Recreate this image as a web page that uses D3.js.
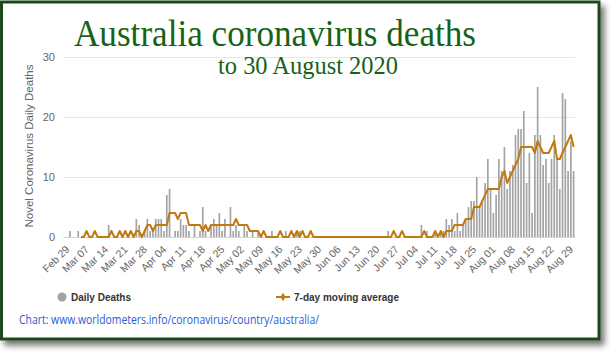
<!DOCTYPE html>
<html><head><meta charset="utf-8">
<script src="https://cdn.jsdelivr.net/npm/d3@7"></script>
<style>html,body{margin:0;padding:0;background:#fff;overflow:hidden}</style>
</head><body>
<svg id="c" width="615" height="356"></svg>
<script>
// ---------- DATA ----------
const startDate = "2020-02-28";   // first category (index 0), last = 2020-08-30
const dailyDeaths = [
0,0,1,0,0,1,0,0,0,0, 0,0,0,0,0,0,2,0,0,0,
0,0,0,0,0,0,3,2,0,1, 3,1,1,3,3,3,1,7,8,0,
1,1,3,2,2,1,0,2,0,1, 5,1,0,2,3,2,4,1,3,0,
5,1,2,1,0,2,1,0,1,0, 1,0,0,0,0,1,0,0,0,0,
1,0,0,0,1,1,0,0,0,0, 0,0,0,0,0,0,0,0,0,0,
0,0,0,0,0,0,0,0,0,0, 0,0,0,0,0,0,0,1,0,0,
0,0,0,0,0,0,0,0,0,2, 0,1,0,0,1,0,1,1,3,2,
3,1,4,1,2,3,5,6,6,10, 5,6,9,13,8,4,7,13,11,15,
8,11,12,17,18,18,21,9,14,4, 17,25,17,12,13,9,13,17,13,8,
24,23,11,16,11
];
const movingAverage = [
null,null,null,null,null,null,0,0,1,0, 0,1,0,0,0,0,0,1,0,0,
1,0,1,0,1,0,1,1,0,1, 2,2,1,2,2,2,2,2,4,4,
4,3,4,4,4,2,2,2,2,2, 1,2,1,2,2,2,2,2,2,2,
2,2,3,2,2,2,2,1,1,1, 1,0,1,0,0,0,0,0,1,0,
0,0,1,0,1,0,1,0,0,1, 0,0,0,0,0,0,0,0,0,0,
0,0,0,0,0,0,0,0,0,0, 0,0,0,0,0,0,0,0,0,1,
0,0,1,0,0,0,0,0,0,0, 1,0,0,0,1,0,1,0,1,1,
1,2,2,2,2,3,3,3,5,5, 5,6,7,8,8,8,8,8,10,11,
9,10,11,12,13,15,15,15,15,15, 14,16,15,14,14,14,15,16,13,13,
14,15,16,17,15
];
const tickLabels = ["Feb 29","Mar 07","Mar 14","Mar 21","Mar 28","Apr 04","Apr 11","Apr 18","Apr 25",
  "May 02","May 09","May 16","May 23","May 30","Jun 06","Jun 13","Jun 20","Jun 27","Jul 04",
  "Jul 11","Jul 18","Jul 25","Aug 01","Aug 08","Aug 15","Aug 22","Aug 29"];
const yTicks = [0, 10, 20, 30];
const titleText = "Australia coronavirus deaths";
const subtitleText = "to 30 August 2020";
const yAxisTitle = "Novel Coronavirus Daily Deaths";
const legendBars = "Daily Deaths";
const legendLine = "7-day moving average";
const sourceText = "Chart: www.worldometers.info/coronavirus/country/australia/";

// ---------- CHART ----------
const fmt = d3.timeFormat("%b %d");
const parse = d3.timeParse("%Y-%m-%d");
const d0 = parse(startDate);
const dates = dailyDeaths.map((_, i) => d3.timeDay.offset(d0, i));
const cats = dates.map(fmt);

const svg = d3.select("#c");
const defs = svg.append("defs");
const f = defs.append("filter").attr("id","sh").attr("x","-5%").attr("y","-5%").attr("width","115%").attr("height","120%");
f.append("feDropShadow").attr("dx",4).attr("dy",5).attr("stdDeviation",3).attr("flood-color","#000").attr("flood-opacity",0.55);

svg.append("rect").attr("x",1.5).attr("y",2).attr("width",597.5).attr("height",337)
  .attr("fill","#fff").attr("stroke","#1f4a1f").attr("stroke-width",3).attr("filter","url(#sh)");

const m = {left:63, right:575, top:57, bottom:237};
const x = d3.scaleBand().domain(cats).range([m.left, m.right]).paddingInner(0.4).paddingOuter(0.2);
const xc = d3.scaleBand().domain(cats).range([m.left, m.right]);
const y = d3.scaleLinear().domain([0, 30]).range([m.bottom, m.top]);

// gridlines + y labels
const yAxis = d3.axisLeft(y).tickValues(yTicks).tickSize(-(m.right - m.left)).tickPadding(8);
const gy = svg.append("g").attr("transform", `translate(${m.left},0)`).call(yAxis);
gy.select(".domain").remove();
gy.selectAll(".tick line").attr("stroke", "#e6e6e6").attr("stroke-width", 1);
gy.selectAll(".tick text").attr("fill", "#666").attr("font-family", "Liberation Sans, Arial, sans-serif")
  .attr("font-size", 11).attr("x", -8);

// bars
svg.append("g").selectAll("rect").data(dailyDeaths).join("rect")
  .attr("x", (d, i) => x(cats[i]))
  .attr("width", x.bandwidth())
  .attr("y", d => y(d))
  .attr("height", d => y(0) - y(d))
  .attr("fill", "#a3a3a3");

// x axis
const xAxis = d3.axisBottom(xc).tickValues(cats.filter(c => tickLabels.includes(c))).tickSize(0).tickPadding(0);
const gx = svg.append("g").attr("transform", `translate(0,${m.bottom})`).call(xAxis);
gx.select(".domain").attr("stroke", "#ccd6eb").attr("stroke-width", 1);
gx.selectAll(".tick text")
  .attr("fill", "#666").attr("font-family", "Liberation Sans, Arial, sans-serif").attr("font-size", 10.5)
  .attr("text-anchor", "end").attr("dy", 0).attr("y", 0)
  .attr("transform", "translate(3,13) rotate(-45)");

// moving average line
const line = d3.line()
  .defined(d => d != null)
  .x((d, i) => xc(cats[i]) + xc.bandwidth() / 2)
  .y(d => y(d));
svg.append("path").datum(movingAverage).attr("d", line)
  .attr("fill", "none").attr("stroke", "#c17a10").attr("stroke-width", 2).attr("stroke-linejoin", "round");

// y axis title
svg.append("text").attr("transform", "translate(33,146) rotate(-90)")
  .attr("text-anchor", "middle").attr("fill", "#666")
  .attr("font-family", "Liberation Sans, Arial, sans-serif").attr("font-size", 11.5).text(yAxisTitle);

// titles
svg.append("text").attr("x", 74).attr("y", 46).attr("fill", "#166316")
  .attr("font-family", "Liberation Serif, Times New Roman, serif").attr("font-size", 38)
  .attr("textLength", 402).attr("lengthAdjust", "spacingAndGlyphs").text(titleText);
svg.append("text").attr("x", 218).attr("y", 74).attr("fill", "#166316")
  .attr("font-family", "Liberation Serif, Times New Roman, serif").attr("font-size", 25)
  .attr("textLength", 180).attr("lengthAdjust", "spacingAndGlyphs").text(subtitleText);

// legend
const lg = svg.append("g");
lg.append("circle").attr("cx", 62).attr("cy", 297).attr("r", 4.5).attr("fill", "#a3a3a3");
lg.append("text").attr("x", 71).attr("y", 301).attr("fill", "#333").attr("font-weight", "bold")
  .attr("font-family", "Liberation Sans, Arial, sans-serif").attr("font-size", 10).text(legendBars);
lg.append("line").attr("x1", 276).attr("x2", 290).attr("y1", 297).attr("y2", 297)
  .attr("stroke", "#c17a10").attr("stroke-width", 2);
lg.append("path").attr("d", d3.symbol(d3.symbolDiamond, 22)()).attr("transform", "translate(283,297)").attr("fill", "#c17a10");
lg.append("text").attr("x", 294).attr("y", 301).attr("fill", "#333").attr("font-weight", "bold")
  .attr("font-family", "Liberation Sans, Arial, sans-serif").attr("font-size", 10).text(legendLine);

// source
svg.append("text").attr("x", 19).attr("y", 324).attr("fill", "#2a5bd7")
  .attr("font-family", "Open Sans, Noto Sans, sans-serif").attr("font-size", 12)
  .attr("textLength", 300).attr("lengthAdjust", "spacingAndGlyphs").text(sourceText);
</script>
</body></html>
